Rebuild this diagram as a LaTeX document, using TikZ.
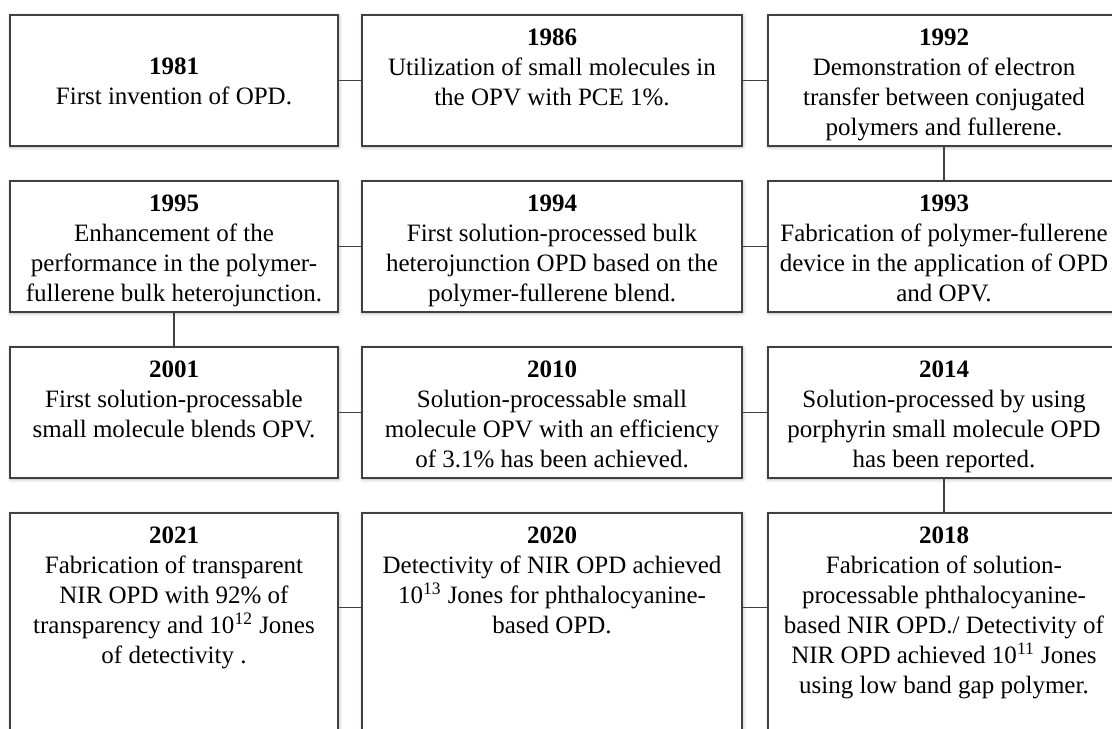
\documentclass[tikz,border=0pt]{standalone}
\usepackage{fontspec}
\setmainfont{Liberation Serif}
\usetikzlibrary{positioning, shadows.blur}

\begin{document}
\begin{tikzpicture}[x=0.5pt, y=-0.5pt,
    box/.style={rectangle, draw=black!75, line width=0.75pt, fill=white,
                minimum height=65.5pt, inner sep=0pt,
                blur shadow={shadow xshift=0.4pt, shadow yshift=-0.6pt,
                             shadow blur steps=6, shadow opacity=30}},
    wa/.style={box, minimum width=164pt},
    wb/.style={box, minimum width=190pt},
    wc/.style={box, minimum width=176pt},
    tall/.style={minimum height=113.5pt},
    txt/.style={align=center, inner sep=0pt, font=\fontsize{12.5}{15}\selectfont},
    link/.style={draw=black!75, line width=0.75pt}
  ]
  \useasboundingbox (0,0) rectangle (1112,728);
  \clip (0,0) rectangle (1112,728);

  % boxes
  \node[wa] (n1981) at (174, 80.5) {};
  \node[wb] (n1986) at (552, 80.5) {};
  \node[wc] (n1992) at (944, 80.5) {};

  \node[wa] (n1995) at (174, 246.5) {};
  \node[wb] (n1994) at (552, 246.5) {};
  \node[wc] (n1993) at (944, 246.5) {};

  \node[wa] (n2001) at (174, 412.5) {};
  \node[wb] (n2010) at (552, 412.5) {};
  \node[wc] (n2014) at (944, 412.5) {};

  \node[wa, tall] (n2021) at (174, 626.5) {};
  \node[wb, tall] (n2020) at (552, 626.5) {};
  \node[wc, tall] (n2018) at (944, 626.5) {};

  % texts
  \node[txt, below=21.5pt of n1981.north] (t1981)
    {\textbf{1981}\\First invention of OPD.};
  \node[txt, below=7pt of n1986.north] (t1986)
    {\textbf{1986}\\Utilization of small molecules in\\the OPV with PCE 1\%.};
  \node[txt, below=7pt of n1992.north] (t1992)
    {\textbf{1992}\\Demonstration of electron\\transfer between conjugated\\polymers and fullerene.};

  \node[txt, below=7pt of n1995.north] (t1995)
    {\textbf{1995}\\Enhancement of the\\performance in the polymer-\\fullerene bulk heterojunction.};
  \node[txt, below=7pt of n1994.north] (t1994)
    {\textbf{1994}\\First solution-processed bulk\\heterojunction OPD based on the\\polymer-fullerene blend.};
  \node[txt, below=7pt of n1993.north] (t1993)
    {\textbf{1993}\\Fabrication of polymer-fullerene\\device in the application of OPD\\and OPV.};

  \node[txt, below=7pt of n2001.north] (t2001)
    {\textbf{2001}\\First solution-processable\\small molecule blends OPV.};
  \node[txt, below=7pt of n2010.north] (t2010)
    {\textbf{2010}\\Solution-processable small\\molecule OPV with an efficiency\\of 3.1\% has been achieved.};
  \node[txt, below=7pt of n2014.north] (t2014)
    {\textbf{2014}\\Solution-processed by using\\porphyrin small molecule OPD\\has been reported.};

  \node[txt, below=7pt of n2021.north] (t2021)
    {\textbf{2021}\\Fabrication of transparent\\NIR OPD with 92\% of\\transparency and 10\textsuperscript{12} Jones\\of detectivity .};
  \node[txt, below=7pt of n2020.north] (t2020)
    {\textbf{2020}\\Detectivity of NIR OPD achieved\\10\textsuperscript{13} Jones for phthalocyanine-\\based OPD.};
  \node[txt, below=7pt of n2018.north] (t2018)
    {\textbf{2018}\\Fabrication of solution-\\processable phthalocyanine-\\based NIR OPD./ Detectivity of\\NIR OPD achieved 10\textsuperscript{11} Jones\\using low band gap polymer.};

  % links
  \foreach \a/\b in {n1981/n1986, n1986/n1992, n1992/n1993, n1993/n1994,
                     n1994/n1995, n1995/n2001, n2001/n2010, n2010/n2014,
                     n2014/n2018}
    \draw[link] (\a) -- (\b);
  \draw[link] ([yshift=-47.5pt]n2018.north west) -- ([yshift=-47.5pt]n2020.north east);
  \draw[link] ([yshift=-47.5pt]n2020.north west) -- ([yshift=-47.5pt]n2021.north east);

\end{tikzpicture}
\end{document}
